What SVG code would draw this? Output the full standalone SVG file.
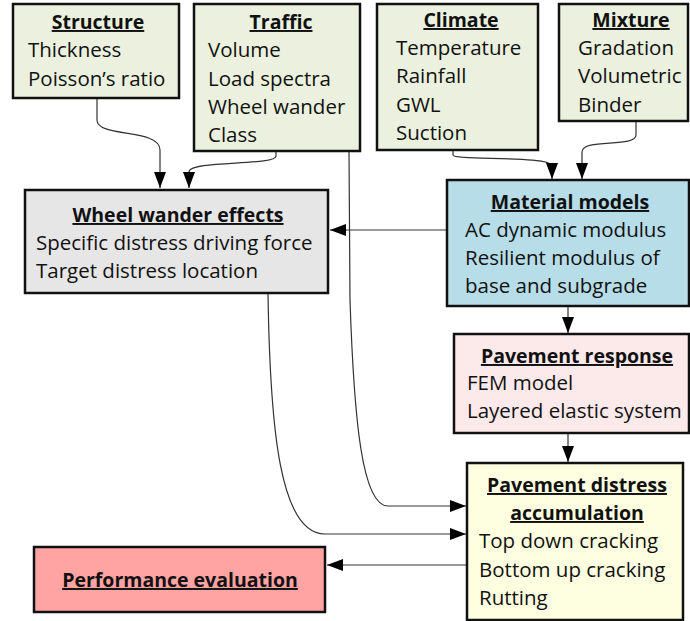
<svg xmlns="http://www.w3.org/2000/svg" width="690" height="621" viewBox="0 0 690 621">
<style>
text{font-family:"Open Sans","Liberation Sans",sans-serif;font-size:20.5px;fill:#111}
.t{font-weight:bold;font-size:19.5px;text-decoration:underline;text-anchor:middle}
.box{stroke:#111;stroke-width:2.5}
.g{fill:#EBF1DE}
.c{fill:none;stroke:#333;stroke-width:1.2}
</style>
<defs>
<marker id="ah" markerUnits="userSpaceOnUse" markerWidth="17" markerHeight="12" refX="16" refY="6" orient="auto">
<path d="M0,0 L16,6 L0,12 Z" fill="#000"/>
</marker>
</defs>
<g id="connectors">
<path class="c" d="M97,98 V120 C97,138 160,128 160,150 V188" marker-end="url(#ah)"/>
<path class="c" d="M276,151 V156 C276,166 189,160 189,172 V188" marker-end="url(#ah)"/>
<path class="c" d="M349,151 L350,300 C354,420 362,506 388,506 L466,506" marker-end="url(#ah)"/>
<path class="c" d="M268,293 C270,430 280,534 325,534 L466,534" marker-end="url(#ah)"/>
<path class="c" d="M453,150 V155 C453,161 552,155 552,166 V179" marker-end="url(#ah)"/>
<path class="c" d="M636,121 V135 C636,148 582,138 582,152 V179" marker-end="url(#ah)"/>
<path class="c" d="M447,230 H330" marker-end="url(#ah)"/>
<path class="c" d="M568,306 V333" marker-end="url(#ah)"/>
<path class="c" d="M568,433 V462" marker-end="url(#ah)"/>
<path class="c" d="M467,565 H327" marker-end="url(#ah)"/>
</g>
<g id="structure">
<rect class="box g" x="13" y="4" width="166" height="94"/>
<text class="t" x="98" y="29">Structure</text>
<text x="28" y="57">Thickness</text>
<text x="28" y="86">Poisson’s ratio</text>
</g>
<g id="traffic">
<rect class="box g" x="194" y="4" width="166" height="147"/>
<text class="t" x="281" y="29">Traffic</text>
<text x="208" y="57">Volume</text>
<text x="208" y="86">Load spectra</text>
<text x="208" y="114">Wheel wander</text>
<text x="208" y="142">Class</text>
</g>
<g id="climate">
<rect class="box g" x="377" y="4" width="161" height="146"/>
<text class="t" x="461" y="27">Climate</text>
<text x="396" y="55">Temperature</text>
<text x="396" y="83">Rainfall</text>
<text x="396" y="112">GWL</text>
<text x="396" y="140">Suction</text>
</g>
<g id="mixture">
<rect class="box g" x="559" y="4" width="129" height="117"/>
<text class="t" x="631" y="27">Mixture</text>
<text x="578" y="55">Gradation</text>
<text x="578" y="83">Volumetric</text>
<text x="578" y="112">Binder</text>
</g>
<g id="wheel-wander-effects">
<rect class="box" x="25" y="190" width="303" height="103" fill="#E7E6E6"/>
<text class="t" x="178" y="222">Wheel wander effects</text>
<text x="36" y="250">Specific distress driving force</text>
<text x="36" y="278">Target distress location</text>
</g>
<g id="material-models">
<rect class="box" x="447" y="180" width="242" height="126" fill="#B7DDE8"/>
<text class="t" x="570" y="209">Material models</text>
<text x="465" y="237">AC dynamic modulus</text>
<text x="465" y="265">Resilient modulus of</text>
<text x="465" y="293">base and subgrade</text>
</g>
<g id="pavement-response">
<rect class="box" x="454" y="334" width="235" height="99" fill="#FCE9EA"/>
<text class="t" x="577" y="363">Pavement response</text>
<text x="467" y="390">FEM model</text>
<text x="467" y="418">Layered elastic system</text>
</g>
<g id="pavement-distress-accumulation">
<rect class="box" x="467" y="463" width="216" height="157" fill="#FEFEE0"/>
<text class="t" x="577" y="492">Pavement distress</text>
<text class="t" x="577" y="520">accumulation</text>
<text x="479" y="548">Top down cracking</text>
<text x="479" y="577">Bottom up cracking</text>
<text x="479" y="605">Rutting</text>
</g>
<g id="performance-evaluation">
<rect class="box" x="34" y="547" width="291" height="65" fill="#FFA3A3"/>
<text class="t" x="180" y="587">Performance evaluation</text>
</g>
</svg>
